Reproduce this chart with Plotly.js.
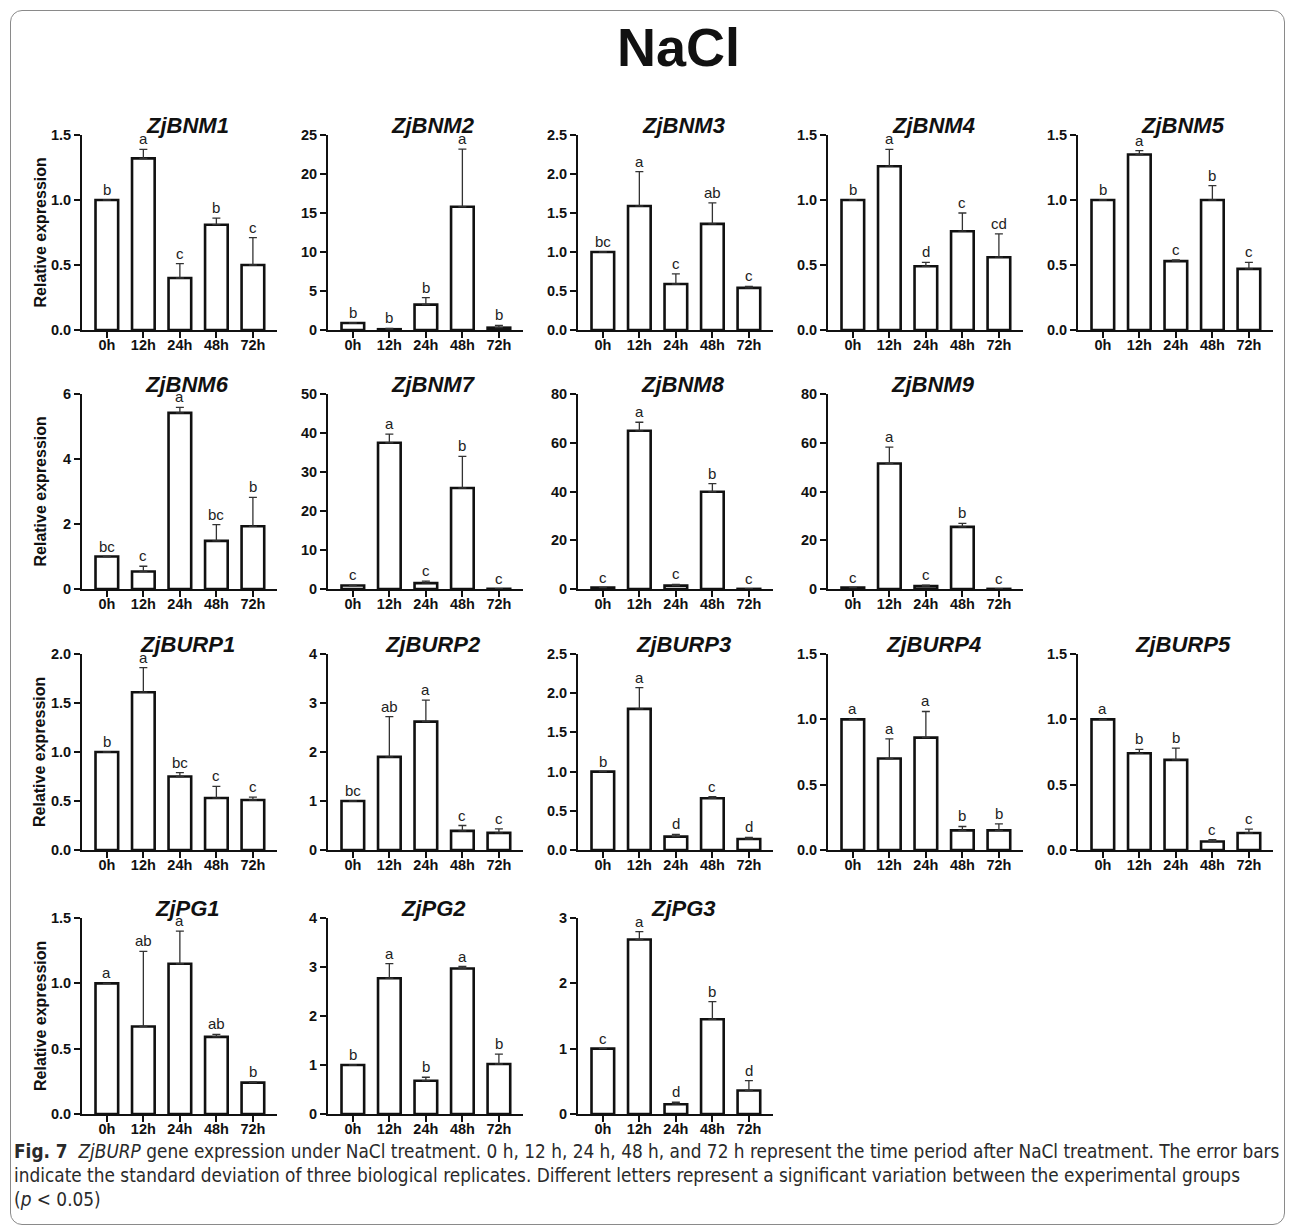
<!DOCTYPE html>
<html>
<head>
<meta charset="utf-8">
<script src="https://cdn.plot.ly/plotly-3.0.1.min.js"></script>
<style>
  html, body { margin: 0; padding: 0; background: #ffffff; }
  #wrap { position: relative; width: 1293px; height: 1230px; }
  #chart { position: absolute; left: 0; top: 0; width: 1293px; height: 1230px; }
  #frame { position: absolute; left: 10px; top: 10px; width: 1275px; height: 1215px;
           border: 1.5px solid #8a8a8a; border-radius: 12px; pointer-events: none; box-sizing: border-box; }
</style>
</head>
<body>
<div id="wrap">
  <div id="chart"></div>
  <div id="frame"></div>
</div>
<script>
// ---------------- data ----------------
const timePoints = ['0h', '12h', '24h', '48h', '72h'];

const geneNames = ['ZjBNM1', 'ZjBNM2', 'ZjBNM3', 'ZjBNM4', 'ZjBNM5',
                   'ZjBNM6', 'ZjBNM7', 'ZjBNM8', 'ZjBNM9',
                   'ZjBURP1', 'ZjBURP2', 'ZjBURP3', 'ZjBURP4', 'ZjBURP5',
                   'ZjPG1', 'ZjPG2', 'ZjPG3'];

const meanValues = [
  [1.00, 1.32, 0.40, 0.81, 0.50],   // ZjBNM1
  [0.90, 0.10, 3.25, 15.8, 0.30],   // ZjBNM2
  [1.00, 1.59, 0.59, 1.36, 0.54],   // ZjBNM3
  [1.00, 1.26, 0.49, 0.76, 0.56],   // ZjBNM4
  [1.00, 1.35, 0.53, 1.00, 0.47],   // ZjBNM5
  [1.00, 0.54, 5.42, 1.48, 1.93],   // ZjBNM6
  [0.90, 37.5, 1.50, 25.9, 0.05],   // ZjBNM7
  [0.60, 64.9, 1.40, 39.9, 0.05],   // ZjBNM8
  [0.60, 51.5, 1.20, 25.5, 0.05],   // ZjBNM9
  [1.00, 1.61, 0.75, 0.53, 0.51],   // ZjBURP1
  [1.00, 1.90, 2.62, 0.39, 0.35],   // ZjBURP2
  [1.00, 1.80, 0.17, 0.66, 0.14],   // ZjBURP3
  [1.00, 0.70, 0.86, 0.15, 0.15],   // ZjBURP4
  [1.00, 0.74, 0.69, 0.065, 0.13],  // ZjBURP5
  [1.00, 0.67, 1.15, 0.59, 0.24],   // ZjPG1
  [1.00, 2.77, 0.68, 2.97, 1.02],   // ZjPG2
  [1.00, 2.67, 0.15, 1.45, 0.36]    // ZjPG3
];

const errValues = [
  [0, 0.07, 0.11, 0.05, 0.21],
  [0, 0.10, 0.90, 7.4, 0.30],
  [0, 0.44, 0.13, 0.27, 0.02],
  [0, 0.13, 0.03, 0.14, 0.18],
  [0, 0.03, 0.01, 0.11, 0.05],
  [0, 0.16, 0.17, 0.50, 0.89],
  [0, 2.2, 0.5, 8.1, 0.05],
  [0, 3.5, 0.5, 3.3, 0.05],
  [0, 6.7, 0.4, 1.4, 0.05],
  [0, 0.25, 0.04, 0.12, 0.03],
  [0, 0.82, 0.44, 0.11, 0.08],
  [0, 0.27, 0.03, 0.02, 0.02],
  [0, 0.15, 0.20, 0.03, 0.05],
  [0, 0.03, 0.09, 0.015, 0.03],
  [0, 0.575, 0.25, 0.02, 0.005],
  [0, 0.30, 0.07, 0.04, 0.20],
  [0, 0.12, 0.03, 0.27, 0.15]
];

const sigLetters = [
  ['b', 'a', 'c', 'b', 'c'],
  ['b', 'b', 'b', 'a', 'b'],
  ['bc', 'a', 'c', 'ab', 'c'],
  ['b', 'a', 'd', 'c', 'cd'],
  ['b', 'a', 'c', 'b', 'c'],
  ['bc', 'c', 'a', 'bc', 'b'],
  ['c', 'a', 'c', 'b', 'c'],
  ['c', 'a', 'c', 'b', 'c'],
  ['c', 'a', 'c', 'b', 'c'],
  ['b', 'a', 'bc', 'c', 'c'],
  ['bc', 'ab', 'a', 'c', 'c'],
  ['b', 'a', 'd', 'c', 'd'],
  ['a', 'a', 'a', 'b', 'b'],
  ['a', 'b', 'b', 'c', 'c'],
  ['a', 'ab', 'a', 'ab', 'b'],
  ['b', 'a', 'b', 'a', 'b'],
  ['c', 'a', 'd', 'b', 'd']
];

const yMax  = [1.5, 25, 2.5, 1.5, 1.5, 6, 50, 80, 80, 2.0, 4, 2.5, 1.5, 1.5, 1.5, 4, 3];
const yStep = [0.5, 5, 0.5, 0.5, 0.5, 2, 10, 20, 20, 0.5, 1, 0.5, 0.5, 0.5, 0.5, 1, 1];

const mainTitle = 'NaCl';
const yAxisTitle = 'Relative expression';
const captionLines = [
  '<b>Fig. 7</b>  <i>ZjBURP</i> gene expression under NaCl treatment. 0 h, 12 h, 24 h, 48 h, and 72 h represent the time period after NaCl treatment. The error bars',
  'indicate the standard deviation of three biological replicates. Different letters represent a significant variation between the experimental groups',
  '(<i>p</i> &lt; 0.05)'
];

// ---------------- layout geometry (pixels) ----------------
const W = 1293, H = 1230;
const panelRow = [0,0,0,0,0, 1,1,1,1, 2,2,2,2,2, 3,3,3];
const panelCol = [0,1,2,3,4, 0,1,2,3, 0,1,2,3,4, 0,1,2];
const colLeft = [82, 328, 578, 828, 1078];
const plotW = 195;
const rowTop = [135, 394, 654, 918];
const rowBottom = [330, 589, 850, 1114];

const px = v => v / W;
const py = v => 1 - v / H;

const FONT = 'Liberation Sans, Arial, Helvetica, sans-serif';
const INK = '#111111';

const traces = [];
const layout = {
  width: W, height: H,
  margin: {l: 0, r: 0, t: 0, b: 0},
  paper_bgcolor: '#ffffff', plot_bgcolor: 'rgba(0,0,0,0)',
  showlegend: false,
  font: {family: FONT, color: INK},
  annotations: []
};

geneNames.forEach((g, i) => {
  const n = i === 0 ? '' : String(i + 1);
  const xa = 'x' + n, ya = 'y' + n;
  const r = panelRow[i], c = panelCol[i];
  traces.push({
    type: 'bar',
    x: timePoints,
    y: meanValues[i],
    xaxis: xa, yaxis: ya,
    width: 0.62,
    marker: {color: '#ffffff', line: {color: INK, width: 2.6}},
    error_y: {type: 'data', symmetric: false, array: errValues[i],
              arrayminus: errValues[i].map(() => 0),
              color: '#333333', thickness: 1.3, width: 4},
    hoverinfo: 'skip'
  });
  layout['xaxis' + n] = {
    domain: [px(colLeft[c]), px(colLeft[c] + plotW)],
    anchor: ya, type: 'category',
    range: [-0.68, 4.66],
    showline: true, linewidth: 2, linecolor: INK,
    ticks: 'outside', ticklen: 6, tickwidth: 2, tickcolor: INK,
    ticklabelstandoff: -5,
    tickfont: {family: FONT, size: 14.5, color: INK, weight: 'bold'},
    showgrid: false, zeroline: false, fixedrange: true
  };
  layout['yaxis' + n] = {
    domain: [py(rowBottom[r]), py(rowTop[r])],
    anchor: xa,
    range: [0, yMax[i]],
    tick0: 0, dtick: yStep[i],
    tickformat: yStep[i] < 1 ? '.1f' : 'd',
    showline: true, linewidth: 2, linecolor: INK,
    ticks: 'outside', ticklen: 6, tickwidth: 2, tickcolor: INK,
    tickfont: {family: FONT, size: 14.5, color: INK, weight: 'bold'},
    showgrid: false, zeroline: false, fixedrange: true
  };
  // panel title
  layout.annotations.push({
    xref: xa + ' domain', yref: ya + ' domain',
    x: 0.54, y: 1, xanchor: 'center', yanchor: 'bottom', yshift: -5,
    text: '<b><i>' + g + '</i></b>', showarrow: false,
    font: {family: FONT, size: 22, color: INK}
  });
  // significance letters
  timePoints.forEach((t, k) => {
    layout.annotations.push({
      xref: xa, yref: ya,
      x: t, y: meanValues[i][k] + errValues[i][k],
      xanchor: 'center', yanchor: 'bottom', yshift: 0,
      text: sigLetters[i][k], showarrow: false,
      font: {family: FONT, size: 15, color: '#222222'}
    });
  });
  // y axis title on the first column
  if (c === 0) {
    layout.annotations.push({
      xref: 'paper', yref: 'paper',
      x: px(40), y: py((rowTop[r] + rowBottom[r]) / 2),
      xanchor: 'center', yanchor: 'middle', textangle: -90,
      text: '<b>' + yAxisTitle + '</b>', showarrow: false,
      font: {family: FONT, size: 16, color: INK}
    });
  }
});

// main title
layout.annotations.push({
  xref: 'paper', yref: 'paper', x: px(679), y: py(47),
  xanchor: 'center', yanchor: 'middle',
  text: '<b>' + mainTitle + '</b>', showarrow: false,
  font: {family: FONT, size: 54, color: INK}
});

// caption
const capY = [1151, 1175, 1199];
captionLines.forEach((line, j) => {
  layout.annotations.push({
    xref: 'paper', yref: 'paper', x: px(12), y: py(capY[j]),
    xanchor: 'left', yanchor: 'middle', align: 'left',
    text: line, showarrow: false,
    font: {family: 'Liberation Sans Narrow, DejaVu Sans Condensed, Arial Narrow, sans-serif', size: 18.85, color: '#2a2a2a'}
  });
});

Plotly.newPlot('chart', traces, layout, {staticPlot: true, displayModeBar: false});
</script>
</body>
</html>
